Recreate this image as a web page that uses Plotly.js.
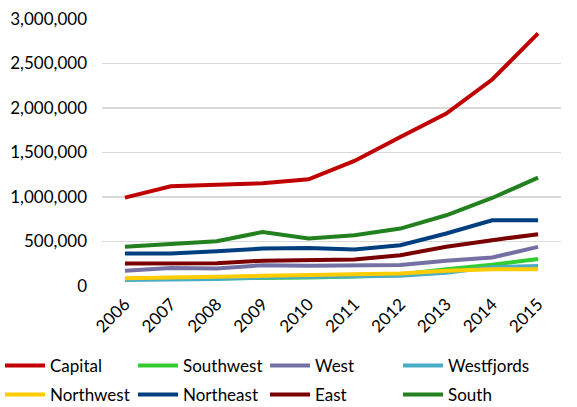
<!DOCTYPE html>
<html>
<head>
<meta charset="utf-8">
<script src="https://cdn.plot.ly/plotly-3.0.1.min.js"></script>
<style>
  html, body { margin: 0; padding: 0; background: #fff; }
  #chart { width: 577px; height: 407px; }
</style>
</head>
<body>
<div id="chart"></div>
<script>
// Years on the x axis
const years = ['2006', '2007', '2008', '2009', '2010', '2011', '2012', '2013', '2014', '2015'];

// Values per region
const capital    = [993000, 1120000, 1138000, 1154000, 1199000, 1405000, 1675000, 1938000, 2320000, 2838000];
const southwest  = [76000, 80000, 86000, 92000, 96000, 108000, 128000, 188000, 238000, 304000];
const west       = [170000, 203000, 198000, 233000, 228000, 228000, 236000, 283000, 320000, 440000];
const westfjords = [68000, 73000, 80000, 96000, 100000, 106000, 116000, 148000, 212000, 225000];
const northwest  = [88000, 92000, 104000, 114000, 120000, 126000, 140000, 170000, 187000, 187000];
const northeast  = [364000, 366000, 390000, 420000, 428000, 410000, 458000, 590000, 738000, 740000];
const east       = [252000, 254000, 256000, 284000, 296000, 298000, 346000, 440000, 515000, 582000];
const south      = [440000, 476000, 503000, 606000, 534000, 571000, 645000, 795000, 989000, 1218000];

const seriesNames  = ['Capital', 'Southwest', 'West', 'Westfjords', 'Northwest', 'Northeast', 'East', 'South'];
const seriesValues = [capital, southwest, west, westfjords, northwest, northeast, east, south];
const seriesColors = ['#C00000', '#33CC33', '#7570A3', '#4BACC6', '#FFCC00', '#003F7F', '#7A0000', '#23801F'];

const FONT = 'Lato, "Open Sans", sans-serif';
const W = 577, H = 407;

// legend grid: 4 columns x 2 rows below the plot
const legendColPx = [0, 133, 265, 398];
const legendRowY  = [0.145, 0.074];

const legendId = i => (i === 0 ? 'legend' : 'legend' + (i + 1));

const traces = seriesNames.map((name, i) => ({
  type: 'scatter',
  mode: 'lines',
  name: name,
  x: years,
  y: seriesValues[i],
  legend: legendId(i),
  line: { color: seriesColors[i], width: 4 }
}));

const layout = {
  width: W,
  height: H,
  margin: { l: 102, r: 16, t: 19, b: 121 },
  paper_bgcolor: '#fff',
  plot_bgcolor: '#fff',
  font: { family: FONT, size: 17, color: '#000' },
  showlegend: true,
  xaxis: {
    type: 'category',
    range: [-0.5, 9.5],
    tickangle: -45,
    showgrid: false,
    zeroline: false,
    showline: false,
    ticks: '',
    ticklabelstandoff: 4,
    tickfont: { family: FONT, size: 17 }
  },
  yaxis: {
    range: [0, 3000000],
    dtick: 500000,
    tickformat: ',d',
    showgrid: true,
    gridcolor: '#D9D9D9',
    gridwidth: 1.5,
    zeroline: false,
    showline: false,
    ticks: '',
    ticklabelstandoff: 14,
    tickfont: { family: FONT, size: 17 }
  }
};

seriesNames.forEach((_, i) => {
  layout[legendId(i)] = {
    orientation: 'h',
    xref: 'container',
    yref: 'container',
    x: legendColPx[i % 4] / W,
    y: legendRowY[Math.floor(i / 4)],
    xanchor: 'left',
    yanchor: 'top',
    itemwidth: 40,
    font: { family: FONT, size: 17, color: '#000' },
    bgcolor: 'rgba(0,0,0,0)'
  };
});

Plotly.newPlot('chart', traces, layout, { displayModeBar: false, staticPlot: true });
</script>
</body>
</html>
